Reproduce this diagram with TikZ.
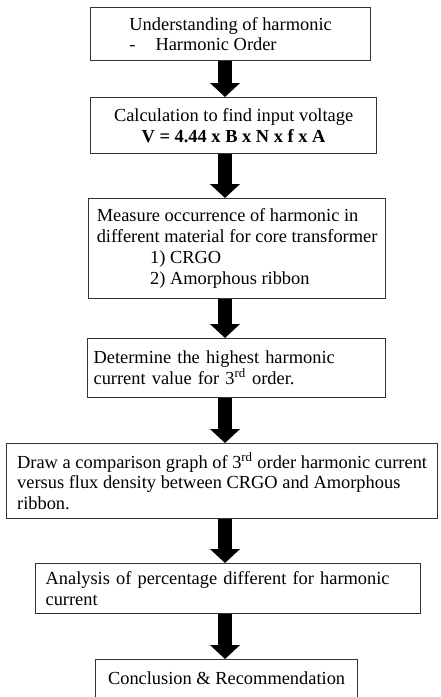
\documentclass[tikz,border=0pt]{standalone}
\usepackage{fontspec}
\setmainfont{Liberation Serif}
\usetikzlibrary{arrows.meta}
\usetikzlibrary{calc}

\begin{document}
\begin{tikzpicture}[
        x=0.75pt, y=-0.75pt,
        every node/.style={font=\fontsize{13.8}{15.6}\selectfont},
        stage/.style = {draw=black!80,
                        line width=0.9pt,
                        rectangle,
                        anchor=north west,
                        inner ysep=0pt},
        flow/.style = {line width=11pt,
                       -{Triangle[width=22pt,length=10.5pt]}}
        ]
        \useasboundingbox (0,0) rectangle (441,697);
        \coordinate (axis) at (225,0);
        \node[stage, minimum width=210pt, minimum height=39.75pt, align=left] (Understanding) at (90,7)
            {Understanding of harmonic\\ -\hspace{15pt}Harmonic Order};
        \node[stage, minimum width=214.5pt, minimum height=42pt, align=center] (Calculation) at (90,97)
            {Calculation to find input voltage\\ \textbf{V = 4.44 x B x N x f x A}};
        \node[stage, minimum width=222.75pt, minimum height=75pt, align=left] (Measure) at (88,198)
            {Measure occurrence of harmonic in\\ different material for core transformer\\
             \hspace*{40pt}1) CRGO\\ \hspace*{40pt}2) Amorphous ribbon};
        \node[stage, text width=214.5pt, inner xsep=4.5pt, minimum height=44.25pt, align=left] (Determine) at (87,338)
            {Determine the highest harmonic\\ current value for 3\textsuperscript{rd} order.};
        \node[stage, minimum width=323.25pt, minimum height=56.25pt, align=left] (Comparison) at (6,443)
            {Draw a comparison graph of 3\textsuperscript{rd} order harmonic current\\
             versus flux density between CRGO and Amorphous\\ ribbon.};
        \node[stage, text width=273.75pt, inner xsep=7.5pt, minimum height=37.5pt, align=left] (Analysis) at (35,563)
            {Analysis of percentage different for harmonic\\ current};
        \node[stage, minimum width=196.5pt, minimum height=28.5pt, align=center] (Conclusion) at (95,659)
            {Conclusion \& Recommendation};
        % block arrows between the stages
        \draw [flow] (Understanding.south -| axis) -- (Calculation.north -| axis);
        \draw [flow] (Calculation.south -| axis) -- (Measure.north -| axis);
        \draw [flow] (Measure.south -| axis) -- (Determine.north -| axis);
        \draw [flow] (Determine.south -| axis) -- (Comparison.north -| axis);
        \draw [flow] (Comparison.south -| axis) -- (Analysis.north -| axis);
        \draw [flow] (Analysis.south -| axis) -- (Conclusion.north -| axis);
\end{tikzpicture}
\end{document}
